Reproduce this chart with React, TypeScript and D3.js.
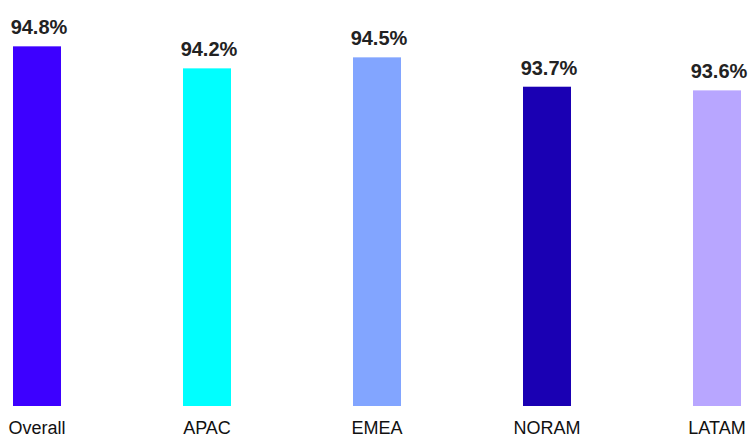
import React from "react";
import * as d3 from "d3";

const categories = ["Overall", "APAC", "EMEA", "NORAM", "LATAM"];
const values = [94.8, 94.2, 94.5, 93.7, 93.6];
const colors = ["#3d00ff", "#00ffff", "#82a5ff", "#1a00b3", "#b8a6ff"];

const W = 749;
const H = 438;

export default function App() {
  const x = d3.scalePoint<string>().domain(categories).range([37, 717]);
  const y = d3.scaleLinear().domain([85, 95]).range([406, 39]);
  const bw = 48;
  return (
    <svg
      width={W}
      height={H}
      style={{ position: "fixed", left: 0, top: 0, background: "#fff" }}
      fontFamily="'Liberation Sans', Arial, Helvetica, sans-serif"
    >
      {categories.map((c, i) => {
        const cx = x(c)!;
        const top = y(values[i]);
        return (
          <g key={c}>
            <rect x={cx - bw / 2} y={top} width={bw} height={y(85) - top} fill={colors[i]} />
            <text
              x={cx + 2}
              y={top - 12}
              textAnchor="middle"
              fontSize={20}
              fontWeight="bold"
              fill="#222"
            >
              {d3.format(".1f")(values[i])}%
            </text>
            <text x={cx} y={434} textAnchor="middle" fontSize={18} fill="#111">
              {c}
            </text>
          </g>
        );
      })}
    </svg>
  );
}
